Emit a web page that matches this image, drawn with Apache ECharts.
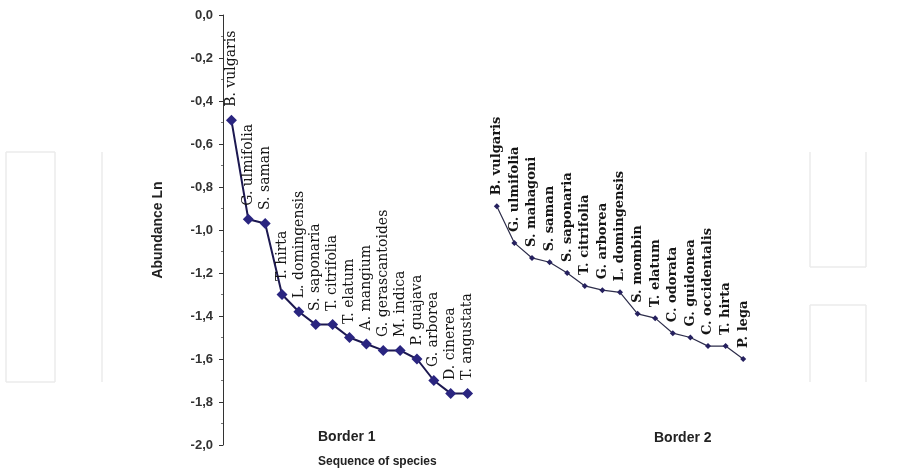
<!DOCTYPE html>
<html><head><meta charset="utf-8">
<script src="https://cdn.jsdelivr.net/npm/echarts@6/dist/echarts.min.js"></script>
<style>html,body{margin:0;padding:0;background:#fff}#c{width:910px;height:474px}</style>
</head><body><div id="c"></div>
<script>
const border1Species = ["B. vulgaris","G. ulmifolia","S. saman","T. hirta","L. domingensis","S. saponaria","T. citrifolia","T. elatum","A. mangium","G. gerascantoides","M. indica","P. guajava","G. arborea","D. cinerea","T. angustata"];
const border1Values = [-0.49,-0.95,-0.97,-1.30,-1.38,-1.44,-1.44,-1.50,-1.53,-1.56,-1.56,-1.60,-1.70,-1.76,-1.76];
const border2Species = ["B. vulgaris","G. ulmifolia","S. mahagoni","S. saman","S. saponaria","T. citrifolia","G. arborea","L. domingensis","S. mombin","T. elatum","C. odorata","G. guidonea","C. occidentalis","T. hirta","P. lega"];
const border2Values = [-0.89,-1.06,-1.13,-1.15,-1.20,-1.26,-1.28,-1.29,-1.39,-1.41,-1.48,-1.50,-1.54,-1.54,-1.60];
const groupLabels = ["Border 1","Border 2"];
const xTitle = "Sequence of species";
const yTitle = "Abundance Ln";

const chart = echarts.init(document.getElementById('c'), null, {renderer:'canvas'});
const fmt = v => (Math.abs(v) < 1e-9 ? '0,0' : v.toFixed(1).replace('.', ','));
const gridTop = 15, gridH = 430;
const hiddenX = (data, gi) => ({
  type:'category', gridIndex:gi, data:data, boundaryGap:true,
  axisLine:{show:false}, axisTick:{show:false}, axisLabel:{show:false}, splitLine:{show:false}
});
const labelFor = (size, weight, off) => ({
  show:true, position:'top', distance:4, rotate:90, align:'left', verticalAlign:'middle',
  formatter:'{b}', fontFamily:'DejaVu Serif', fontSize:size, fontWeight:weight, color:'#151515', offset:off
});
const wm = '#ebebeb';
const ln = (x1,y1,x2,y2) => ({type:'line', silent:true, z:-10, shape:{x1,y1,x2,y2}, style:{stroke:wm, lineWidth:1.5}});
chart.setOption({
  animation:false,
  backgroundColor:'#ffffff',
  grid:[
    {left:223, top:gridTop, width:253, height:gridH},
    {left:488, top:gridTop, width:264, height:gridH}
  ],
  xAxis:[hiddenX(border1Species,0), hiddenX(border2Species,1)],
  yAxis:[
    {type:'value', gridIndex:0, min:-2, max:0, interval:0.2,
     name:yTitle, nameLocation:'middle', nameGap:58,
     nameTextStyle:{fontFamily:'Liberation Sans', fontWeight:'bold', fontSize:14, color:'#222'},
     axisLine:{show:true, lineStyle:{color:'#333', width:1}},
     axisTick:{show:true, inside:false, length:4, lineStyle:{color:'#333'}},
     minorTick:{show:true, splitNumber:2, length:2, lineStyle:{color:'#777'}},
     axisLabel:{formatter:fmt, margin:10, fontFamily:'Liberation Sans', fontWeight:'bold', fontSize:13, color:'#333'},
     splitLine:{show:false}},
    {type:'value', gridIndex:1, min:-2, max:0, interval:0.2, show:false, splitLine:{show:false}}
  ],
  graphic:[
    ln(6,152,6,382), ln(55,152,55,382), ln(6,152,55,152), ln(6,382,55,382),
    ln(102,152,102,382),
    ln(810,152,810,267), ln(810,305,810,382), ln(866,152,866,267), ln(866,305,866,382),
    ln(810,267,866,267), ln(810,305,866,305),
    {type:'text', left:318, top:430, style:{text:groupLabels[0], font:'bold 14px "Liberation Sans"', fill:'#222'}},
    {type:'text', left:654, top:431, style:{text:groupLabels[1], font:'bold 14px "Liberation Sans"', fill:'#222'}},
    {type:'text', left:318, top:456, style:{text:xTitle, font:'bold 12px "Liberation Sans"', fill:'#222'}}
  ],
  series:[
    {type:'line', name:groupLabels[0], xAxisIndex:0, yAxisIndex:0, data:border1Values,
     symbol:'diamond', symbolSize:11, itemStyle:{color:'#2a2580'},
     lineStyle:{color:'#1c1850', width:2}, label:labelFor(14,'normal',[4,0])},
    {type:'line', name:groupLabels[1], xAxisIndex:1, yAxisIndex:1, data:border2Values,
     symbol:'diamond', symbolSize:6, itemStyle:{color:'#26215f'},
     lineStyle:{color:'#2d2d4a', width:1.2}, label:labelFor(13,'bold',[4,0])}
  ]
});
</script></body></html>
